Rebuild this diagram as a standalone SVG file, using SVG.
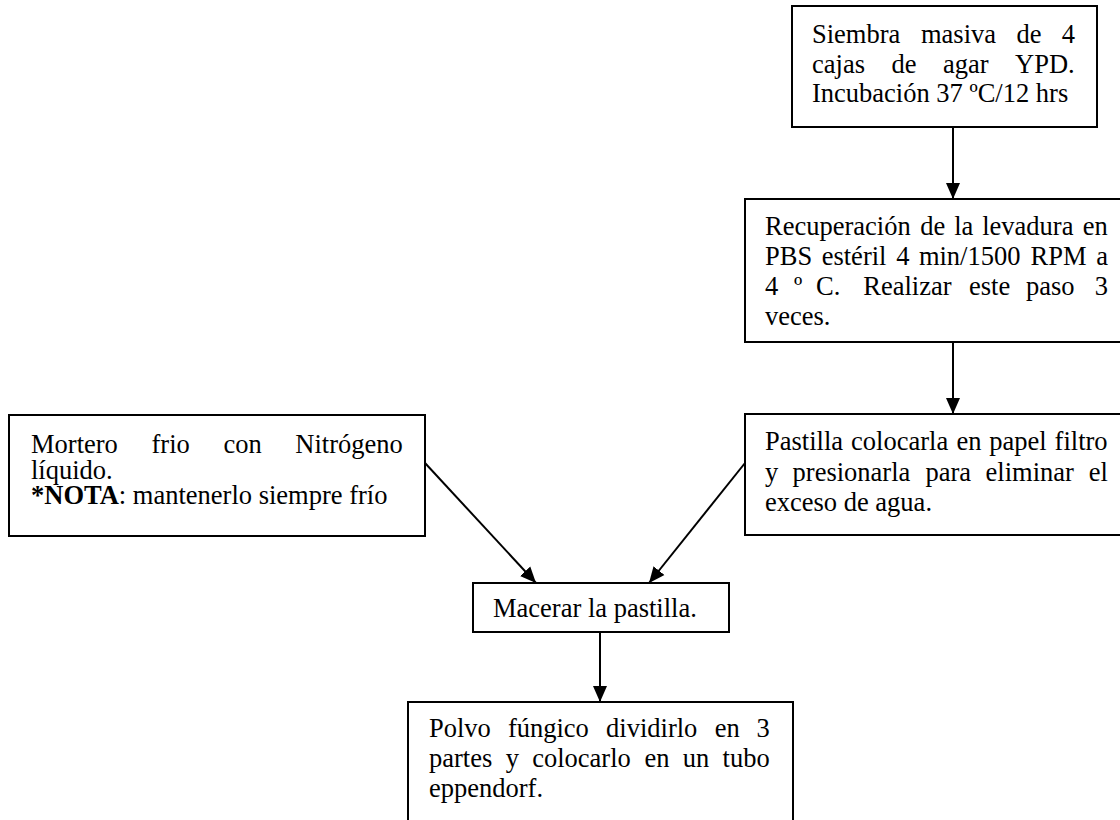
<svg xmlns="http://www.w3.org/2000/svg" width="1120" height="820" viewBox="0 0 1120 820">
<style>
.box{fill:#fff;stroke:#000;stroke-width:2}
.t{font-family:"Liberation Serif","Times New Roman",serif;font-size:26.5px;fill:#000}
.b{font-weight:bold}
.edge{stroke:#000;stroke-width:2;fill:none}
</style>
<defs>
<marker id="ah" markerUnits="userSpaceOnUse" markerWidth="16" markerHeight="16" viewBox="0 0 16 16" refX="16" refY="8" orient="auto">
<path d="M0,1 L16,8 L0,15 Z" fill="#000"/>
</marker>
</defs>
<rect width="1120" height="820" fill="#fff"/>
<g id="connectors">
<line class="edge" x1="953" y1="127" x2="953" y2="199" marker-end="url(#ah)"/>
<line class="edge" x1="953" y1="342" x2="953" y2="414" marker-end="url(#ah)"/>
<line class="edge" x1="425" y1="463" x2="536" y2="583" marker-end="url(#ah)"/>
<line class="edge" x1="745" y1="463" x2="649" y2="583" marker-end="url(#ah)"/>
<line class="edge" x1="600" y1="632" x2="600" y2="702" marker-end="url(#ah)"/>
</g>
<g id="siembra">
<rect class="box" x="792" y="6" width="305" height="121"/>
<text class="t" y="43"><tspan x="812">Siembra</tspan><tspan x="921">masiva</tspan><tspan x="1016.5">de</tspan><tspan x="1061.7">4</tspan></text>
<text class="t" y="72.5"><tspan x="812">cajas</tspan><tspan x="891.5">de</tspan><tspan x="943">agar</tspan><tspan x="1015">YPD.</tspan></text>
<text class="t" x="812" y="102">Incubación 37 ºC/12 hrs</text>
</g>
<g id="recuperacion">
<rect class="box" x="745" y="199" width="390" height="143"/>
<text class="t" y="235"><tspan x="765">Recuperación</tspan><tspan x="920.3">de</tspan><tspan x="954.2">la</tspan><tspan x="982.2">levadura</tspan><tspan x="1082.7">en</tspan></text>
<text class="t" y="265"><tspan x="765">PBS</tspan><tspan x="821.7">estéril</tspan><tspan x="896.3">4</tspan><tspan x="918.9">min/1500</tspan><tspan x="1030.5">RPM</tspan><tspan x="1096.2">a</tspan></text>
<text class="t" y="295"><tspan x="765">4</tspan><tspan x="794">º</tspan><tspan x="816">C.</tspan><tspan x="863.3">Realizar</tspan><tspan x="969">este</tspan><tspan x="1026">paso</tspan><tspan x="1094.8">3</tspan></text>
<text class="t" x="765" y="325">veces.</text>
</g>
<g id="pastilla">
<rect class="box" x="745" y="414" width="390" height="121"/>
<text class="t" y="450"><tspan x="765">Pastilla</tspan><tspan x="851.1">colocarla</tspan><tspan x="956.4">en</tspan><tspan x="989.2">papel</tspan><tspan x="1054.6">filtro</tspan></text>
<text class="t" y="480.5"><tspan x="765">y</tspan><tspan x="792.6">presionarla</tspan><tspan x="925.4">para</tspan><tspan x="985.6">eliminar</tspan><tspan x="1088.8">el</tspan></text>
<text class="t" x="765" y="511">exceso de agua.</text>
</g>
<g id="mortero">
<rect class="box" x="9" y="415" width="416" height="121"/>
<text class="t" y="453"><tspan x="31">Mortero</tspan><tspan x="151.5">frio</tspan><tspan x="223.4">con</tspan><tspan x="295.3">Nitrógeno</tspan></text>
<text class="t" x="31" y="479">líquido.</text>
<text class="t" x="31" y="503.5"><tspan class="b">*NOTA</tspan>: mantenerlo siempre frío</text>
</g>
<g id="macerar">
<rect class="box" x="473" y="583" width="256" height="49"/>
<text class="t" x="493" y="617">Macerar la pastilla.</text>
</g>
<g id="polvo">
<rect class="box" x="408" y="702" width="385" height="130"/>
<text class="t" y="737"><tspan x="429">Polvo</tspan><tspan x="507.9">fúngico</tspan><tspan x="606.1">dividirlo</tspan><tspan x="714.7">en</tspan><tspan x="756.6">3</tspan></text>
<text class="t" y="767"><tspan x="429">partes</tspan><tspan x="505.8">y</tspan><tspan x="532.2">colocarlo</tspan><tspan x="644.5">en</tspan><tspan x="682.8">un</tspan><tspan x="722.6">tubo</tspan></text>
<text class="t" x="429" y="797">eppendorf.</text>
</g>
</svg>
